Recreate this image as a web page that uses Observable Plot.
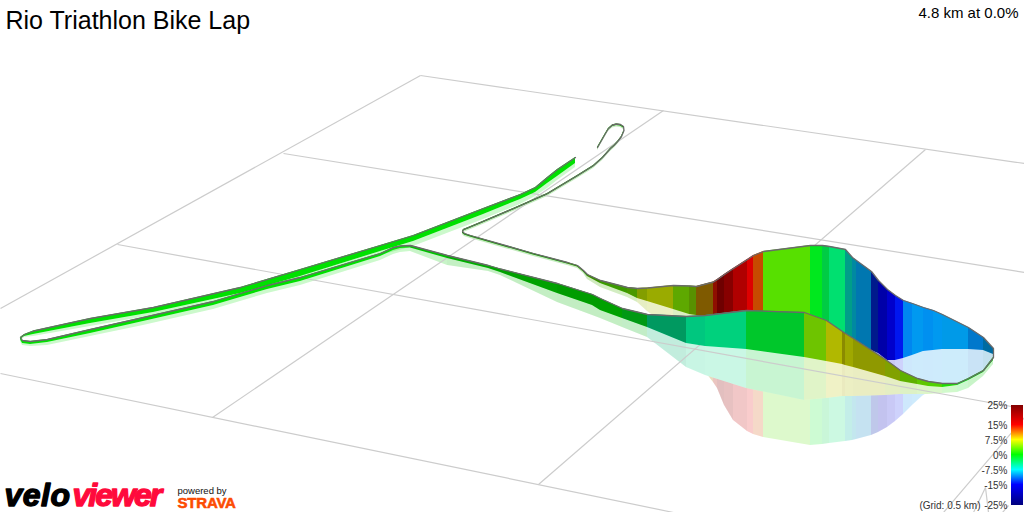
<!DOCTYPE html>
<html>
<head>
<meta charset="utf-8">
<script src="https://cdn.jsdelivr.net/npm/d3@7"></script>
<script src="https://cdn.jsdelivr.net/npm/@observablehq/plot@0.6"></script>
<style>
  html, body { margin: 0; padding: 0; background: #fff; }
  svg { display: block; }
  .velo text { letter-spacing: 0.5px; }
  .viewer text { letter-spacing: -2px; }
  .strava text { letter-spacing: -0.2px; }
</style>
</head>
<body>
<div id="chart"></div>
<script>
// Perspective ground grid
const gridX1 = [420, 283, 117, 0, 0, 212, 538, 943, 973, 985, 1002];
const gridY1 = [75, 153, 244, 373, 308, 417, 484, 512, 512, 487, 512];
const gridX2 = [1024, 1024, 1011, 673, 420, 663, 925, 1024, 985, 988, 1008];
const gridY2 = [163, 272, 406, 512, 75, 110, 149, 417, 487, 512, 505];

// Route vertices, in painter's order (far tail, hump back wall, hump front wall, long out-and-back)
const routeX = [
  597,601,605,608,612,616,620,623,623.5,621,618,614,610,602,593,577,547,513,480,468,463,462,464,470,533,567,577,583,587,
  600,627,637,647,673,689,696,713,717,724,733,747,753,763,810,822,829,845,852,856,871,878,887,895,903,912,923,933,942,968,983,993,
  993,983,968,957,942,928,917,900,885,853,845,842,826,804,746,705,686,647,622,600,
  592,557,500,488,447,410,400,393,380,300,267,213,143,90,47,30,22,20,24,33,90,153,240,300,380,413,483,520,535,547,557,575
];
const routeTop = [
  147,140,133,128,124.5,123.5,124,126,130,136,140,144.5,148,157,165,175,193,208,222,227,229,231,233,235,253,262,265,270,274,
  280,287,288,287.5,285,285.5,286,281.5,279,274,268,259,255,251,245,245,246,249,257,260,271,280,289,295,300,303,307,310,314,327,337,348,
  357,370,378,383,383,381,378,370,359,338,333,331,320,312,310,315,316,314,308,298,
  294,283,268.5,265,255,245,245.5,247,253,277,285,301,317,329,339,341,340,337,334,330.5,318,307,287,269,245,235,208,194,187,177,169,157
];
const routeBase = [
  148.5,141.5,134.5,129.5,126,125,125.5,127.5,131.5,137.5,141.5,146,149.5,158.5,166.5,176.5,194.5,209.5,223.5,228.5,230.5,232.5,234.5,236.5,254.5,263.5,266.5,271.5,276,
  283,293,298,301,309,314,315,318,320,322,325,328,330,332,340,342,343,345,346,347,350,353,360,360,358,355,351,350,349,349,350,354,
  360,372,380,385,387,386,384,381,376,367,365,364,361,357,349,346,343,327,318,310,
  305,293,272,268,258,247.5,248,250,256,281,289,305,321,333,342,344,343,339,336,334,323,312,293,276,251,241,214,199,192,183,176,163
];
const routeShadow = [
  150,143,136,131,127.5,126.5,127,129,133,139,143,147.5,151,160,168,178,196,211,225,230,232,234,236,238,256,265,268,273,279,
  287,297,302,311,330,350,360,382,388,405,420,431,434,437,445,444,443,441,440,439,435,432,427,421,414,405,395,390,388,381,372,358,
  364,376,388,392,393,394,394,394,395,396,396,396,398,400,388,375,367,337,327,318,
  315,302,275,271,265,251,252,254,260,285,293,309,325,336,345,346,345,341,337,336,326,315,296,279,255,246,219,204,196,188,180,167
];

// Gradient (%) and shading of each wall panel between two consecutive vertices
const segGrade = [
  1,1,1,1,1, 1,1,1,1,1, 1,1,1,1,1, 1,1,1,1,1, 1,1,1,1,1, 2,2,2,3,
  2.9,3.6,6.2,6.75,4.2,4.6,9.7,14.2,18,17,16,15,12.2,2.9,-1,-2.5,-3.75,-6.5,-8.6,-9.9,-13.6,-15,-15,-14.3,-10.8,-10.2,-10.5,-10.2,-10,-10.6,-10,
  0,
  0,0,-0.5,1,2.9,3.6,4,6,7,7.1,7.5,7.2,4.2,-1.65,-4.5,-4.8,-4.7,-1,0,
  0,0,0,0,0, 0,0,0,0,0, 0,0,0,0,0, 0,0,0,0,0, 0,0,0,0,0, 0,0,0,0,0, 0,0
];
const segShade = [
  .45,.45,.45,.45,.45, .45,.45,.45,.45,.45, .45,.45,.45,.45,.45, .45,.45,.45,.45,.45, .45,.45,.45,.45,.45, .45,.45,.45,.45,
  .4,.4,.38,.33,.34,.43,.5,.44,.49,.41,.27,.13,.22,.12,.09,.2,.12,.38,.37,.31,.45,.34,.2,.06,.06,.06,.06,.06,.09,.2,.37,
  .3,
  .25,.25,.15,.12,.18,.22,.31,.37,.4,.34,.46,.28,.23,.22,.18,.22,.4,.4,.37,
  .39,.39,.37,.35,.33, .25,.12,.12,.12,.12, .12,.12,.12,.12,.12, .12,.12,.12,.12,.12, .12,.12,.12,.12,.12, .12,.12,.12,.12,.12, .12,.12
];
const backPanelCount = 60; // panels behind the near wall

// Colour key
const keyDomain = [-25, -15, -7.5, 0, 7.5, 15, 25];
const keyRange = ["#00007f", "#0000ff", "#00ffff", "#00ff00", "#ffff00", "#ff0000", "#7f0000"];
const keyLabels = ["-25%", "-15%", "-7.5%", "0%", "7.5%", "15%", "25%"];
const keyLabelY = [505, 485, 470, 455, 440, 425, 405];
const keyRamp = d3.range(-25, 25, 0.5);

const title = "Rio Triathlon Bike Lap";
const summary = "4.8 km at 0.0%";
const gridNote = "(Grid: 0.5 km)";

const panels = segGrade.flatMap((grade, i) => [
  {seg: i, x: routeX[i], top: routeTop[i], base: routeBase[i], shadow: routeShadow[i], grade, shade: segShade[i], shadowShade: 0.18 * segShade[i]},
  {seg: i, x: routeX[i + 1], top: routeTop[i + 1], base: routeBase[i + 1], shadow: routeShadow[i + 1], grade, shade: segShade[i], shadowShade: 0.18 * segShade[i]}
]);
const farPanels = panels.filter(d => d.seg < backPanelCount);
const nearPanels = panels.filter(d => d.seg >= backPanelCount);
const keyY = g => 455 - 2 * g;

const shadowMarks = rows => [
  Plot.area(rows, {x1: "x", y1: "base", y2: "shadow", z: "seg", fill: "grade", fillOpacity: 0.18}),
  Plot.area(rows, {x1: "x", y1: "base", y2: "shadow", z: "seg", fill: "#000", fillOpacity: "shadowShade"})
];
const wallMarks = rows => [
  Plot.area(rows, {x1: "x", y1: "top", y2: "base", z: "seg", fill: "grade"}),
  Plot.area(rows, {x1: "x", y1: "top", y2: "base", z: "seg", fill: "#000", fillOpacity: "shade"})
];

const chart = Plot.plot({
  width: 1024,
  height: 512,
  margin: 0,
  x: {domain: [0, 1024], range: [0, 1024], axis: null},
  y: {domain: [0, 512], range: [0, 512], axis: null},
  color: {type: "linear", domain: keyDomain, range: keyRange},
  opacity: {type: "identity"},
  style: {fontFamily: "'Liberation Sans', Arial, sans-serif", background: "#fff", overflow: "hidden"},
  marks: [
    ...shadowMarks(farPanels),
    Plot.area(nearPanels, {x1: "x", y1: "top", y2: "shadow", z: "seg", fill: "#fff"}),
    ...shadowMarks(nearPanels),
    Plot.link(d3.range(gridX1.length), {
      x1: i => gridX1[i], y1: i => gridY1[i], x2: i => gridX2[i], y2: i => gridY2[i],
      stroke: "#cccccc", strokeWidth: 1.2
    }),
    ...wallMarks(farPanels),
    ...wallMarks(nearPanels),
    Plot.line(routeX.map((x, i) => [x, routeTop[i]]), {x: d => d[0], y: d => d[1], stroke: "#6a6a6a", strokeWidth: 1.3}),
    // colour key
    Plot.rect(keyRamp, {
      x1: () => 1011, x2: () => 1023, y1: g => keyY(g + 0.5), y2: g => keyY(g),
      fill: g => g, shapeRendering: "crispEdges"
    }),
    Plot.text(keyLabels, {
      x: () => 1007, y: (d, i) => keyLabelY[i], text: d => d,
      textAnchor: "end", fontSize: 10, fill: "#333"
    }),
    Plot.text([gridNote], {x: () => 980, y: () => 505, text: d => d, textAnchor: "end", fontSize: 10, fill: "#333"}),
    // headings
    Plot.text([title], {x: () => 5, y: () => 20, text: d => d, textAnchor: "start", fontSize: 25, fill: "#000"}),
    Plot.text([summary], {x: () => 1018, y: () => 13, text: d => d, textAnchor: "end", fontSize: 15, fill: "#000"}),
    // branding
    Plot.text(["velo"], {
      x: () => 4, y: () => 495.5, text: d => d, textAnchor: "start", fontSize: 32, fontWeight: 700,
      fontStyle: "italic", fill: "#000", stroke: "#000", strokeWidth: 1.4, className: "velo"
    }),
    Plot.text(["viewer"], {
      x: () => 72, y: () => 495.5, text: d => d, textAnchor: "start", fontSize: 32, fontWeight: 700,
      fontStyle: "italic", fill: "#ff0a3c", stroke: "#ff0a3c", strokeWidth: 1.4, className: "viewer"
    }),
    Plot.text(["powered by"], {x: () => 177, y: () => 490.5, text: d => d, textAnchor: "start", fontSize: 9.5, fill: "#111"}),
    Plot.text(["STRAVA"], {
      x: () => 177, y: () => 503, text: d => d, textAnchor: "start", fontSize: 15, fontWeight: 700,
      fill: "#fc4c02", stroke: "#fc4c02", strokeWidth: 0.6, className: "strava"
    })
  ]
});
document.getElementById("chart").appendChild(chart);
</script>
</body>
</html>
